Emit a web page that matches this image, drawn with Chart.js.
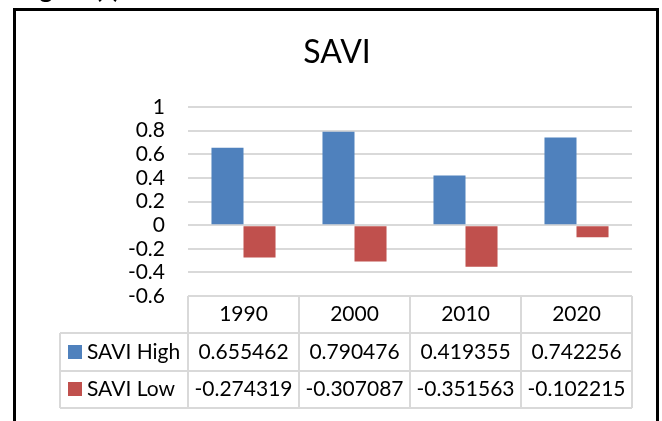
<!DOCTYPE html>
<html>
<head>
<meta charset="utf-8">
<script src="https://cdn.jsdelivr.net/npm/chart.js@4/dist/chart.umd.min.js"></script>
<style>
  html, body { margin: 0; padding: 0; background: #fff; overflow: hidden; }
  #wrap { position: relative; width: 662px; height: 421px; overflow: hidden; }
  #chart { position: absolute; left: 0; top: 0; }
  #frame {
    position: absolute; left: 13px; top: 8px; width: 646px; height: 500px;
    box-sizing: border-box; border: 3px solid #000; pointer-events: none;
  }
  #caption {
    position: absolute; left: 19px; top: -24px; white-space: nowrap;
    font: bold 25px Lato, sans-serif; line-height: 24px; color: #000;
  }
</style>
</head>
<body>
<div id="wrap">
  <canvas id="chart" width="662" height="421"></canvas>
  <div id="frame"></div>
  <div id="caption">Figure (c)</div>
</div>
<script>
// Survey years and the two SAVI series
const categories = ['1990', '2000', '2010', '2020'];
const saviHigh = [0.655462, 0.790476, 0.419355, 0.742256];
const saviLow = [-0.274319, -0.307087, -0.351563, -0.102215];
const seriesNames = ['SAVI High', 'SAVI Low'];
const seriesColors = ['#4F81BD', '#C0504D'];
const chartTitle = 'SAVI';
const yMin = -0.6, yMax = 1, yStep = 0.2;

const FONT = 'Lato, "Open Sans", sans-serif';
const GRID = '#d9d9d9';

// Title centred on the framed panel rather than on the plot box
const panelTitle = {
  id: 'panelTitle',
  afterDraw(chart) {
    const ctx = chart.ctx;
    ctx.save();
    ctx.fillStyle = '#000';
    ctx.font = '32px ' + FONT;
    ctx.textAlign = 'center';
    ctx.textBaseline = 'alphabetic';
    ctx.fillText(chartTitle, 337, 63);
    ctx.restore();
  }
};

// Data table drawn under the plot, columns aligned with the category scale
const dataTable = {
  id: 'dataTable',
  afterDraw(chart) {
    const ctx = chart.ctx;
    const xs = chart.scales.x;
    const area = chart.chartArea;
    const n = categories.length;
    const colW = (area.right - area.left) / n;
    const top = area.bottom;
    const bottom = xs.bottom;
    const rowH = (bottom - top) / 3;
    const legendLeft = 60;
    const rows = [saviHigh, saviLow];

    ctx.save();
    ctx.strokeStyle = GRID;
    ctx.lineWidth = 2;
    ctx.beginPath();
    // horizontal rules
    ctx.moveTo(area.left, top); ctx.lineTo(area.right, top);
    for (let r = 1; r <= 3; r++) {
      const y = Math.round(top + r * rowH);
      ctx.moveTo(legendLeft, y); ctx.lineTo(area.right, y);
    }
    // vertical rules
    for (let c = 0; c <= n; c++) {
      const x = Math.round(area.left + c * colW);
      ctx.moveTo(x, top); ctx.lineTo(x, bottom);
    }
    ctx.moveTo(legendLeft, Math.round(top + rowH)); ctx.lineTo(legendLeft, bottom);
    ctx.stroke();

    ctx.fillStyle = '#000';
    ctx.font = '21px ' + FONT;
    ctx.textAlign = 'center';
    ctx.textBaseline = 'middle';
    categories.forEach((cat, i) => {
      const cx = xs.getPixelForValue(i);
      ctx.fillText(cat, cx, top + rowH / 2);
      rows.forEach((vals, r) => {
        ctx.fillText(String(vals[i]), cx, top + rowH * (r + 1.5));
      });
    });

    // series keys
    ctx.textAlign = 'left';
    rows.forEach((vals, r) => {
      const cy = top + rowH * (r + 1.5);
      ctx.fillStyle = seriesColors[r];
      ctx.fillRect(68, Math.round(cy - 7), 14, 14);
      ctx.fillStyle = '#000';
      ctx.fillText(seriesNames[r], 87, cy);
    });
    ctx.restore();
  }
};

new Chart(document.getElementById('chart'), {
  type: 'bar',
  data: {
    labels: categories,
    datasets: [
      { label: seriesNames[0], data: saviHigh, backgroundColor: seriesColors[0] },
      { label: seriesNames[1], data: saviLow, backgroundColor: seriesColors[1] }
    ]
  },
  options: {
    responsive: false,
    animation: false,
    devicePixelRatio: 1,
    layout: { padding: { left: 0, right: 30, top: 107, bottom: 13 } },
    datasets: { bar: { categoryPercentage: 0.577, barPercentage: 1 } },
    plugins: {
      legend: { display: false },
      tooltip: { enabled: false },
      title: { display: false }
    },
    scales: {
      x: {
        offset: true,
        grid: { display: false },
        border: { display: false },
        ticks: { display: false },
        afterFit(s) { s.height = 112; }
      },
      y: {
        min: yMin,
        max: yMax,
        grid: { color: GRID, lineWidth: 2, drawTicks: false },
        border: { display: false },
        ticks: {
          stepSize: yStep,
          autoSkip: false,
          padding: 23,
          color: '#000',
          font: { family: FONT, size: 21 },
          callback: v => String(Math.round(v * 10) / 10)
        },
        afterFit(s) { s.width = 188; }
      }
    }
  },
  plugins: [dataTable, panelTitle]
});
</script>
</body>
</html>
